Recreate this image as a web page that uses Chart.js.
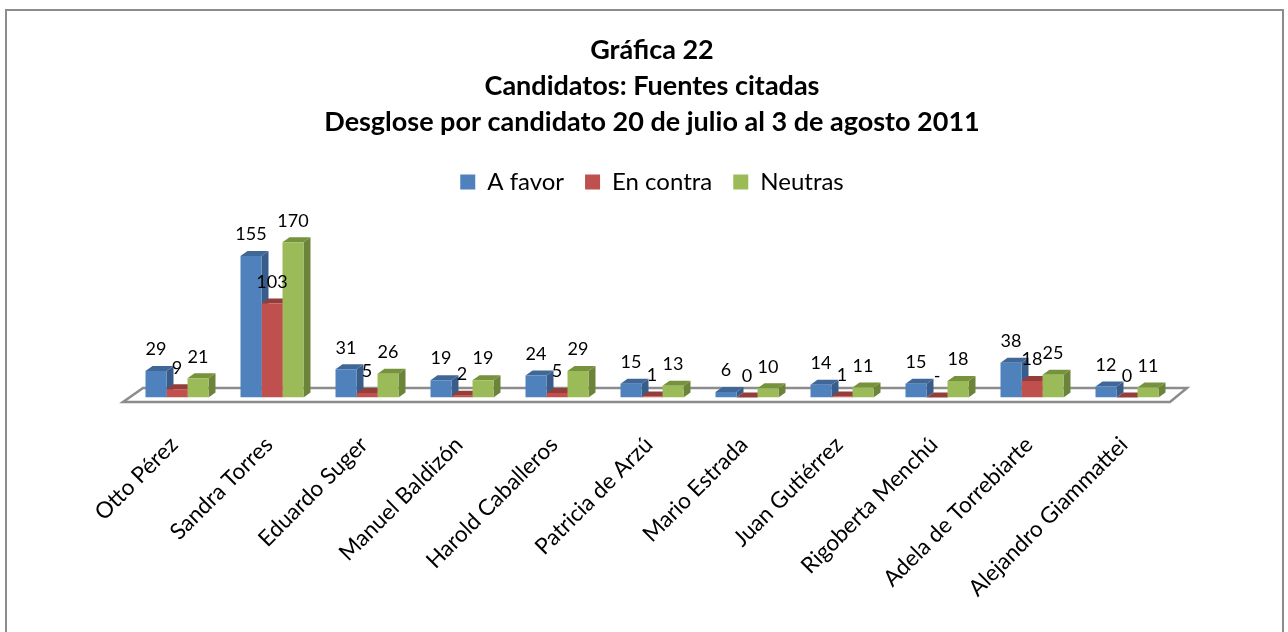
<!DOCTYPE html>
<html>
<head>
<meta charset="utf-8">
<style>
  html, body { margin: 0; padding: 0; background: #fff; }
  #marco { position: absolute; left: 0; top: 0; width: 1288px; height: 632px; }
  #marco:before { content: ''; position: absolute; left: 5px; top: 9px; width: 1275px; height: 640px; border: 2px solid #8c8c8c; }
  #marcoClip { position: absolute; left: 0; top: 0; width: 1288px; height: 632px; overflow: hidden; }
  canvas { position: absolute; left: 0; top: 0; }
</style>
<script src="https://cdn.jsdelivr.net/npm/chart.js@4"></script>
</head>
<body>
<div id="marcoClip"><div id="marco"></div><canvas id="grafica" width="1288" height="632"></canvas></div>
<script>
const candidatos = ['Otto Pérez', 'Sandra Torres', 'Eduardo Suger', 'Manuel Baldizón', 'Harold Caballeros', 'Patricia de Arzú', 'Mario Estrada', 'Juan Gutiérrez', 'Rigoberta Menchú', 'Adela de Torrebiarte', 'Alejandro Giammattei'];
const aFavor = [29, 155, 31, 19, 24, 15, 6, 14, 15, 38, 12];
const enContra = [9, 103, 5, 2, 5, 1, 0, 1, 0, 18, 0];
const neutras = [21, 170, 26, 19, 29, 13, 10, 11, 18, 25, 11];
// Rigoberta Menchú lleva un guion en lugar de 0
const enContraTexto = ['9', '103', '5', '2', '5', '1', '0', '1', '-', '18', '0'];
const titulo = ['Gráfica 22', 'Candidatos: Fuentes citadas', 'Desglose por candidato 20 de julio al 3 de agosto 2011'];

const FUENTE = 'Lato, "Open Sans", sans-serif';
const FONDO_X = 7, FONDO_Y = 5; // profundidad de las barras

const colores = [
  { frente: '#4f81bd', lado: '#385d8a', arriba: '#3f6797' },
  { frente: '#c0504d', lado: '#8c3836', arriba: '#943d3a' },
  { frente: '#9bbb59', lado: '#6c8439', arriba: '#76923c' }
];

function cara(ctx, puntos, color) {
  ctx.fillStyle = color;
  ctx.beginPath();
  puntos.forEach((p, i) => i ? ctx.lineTo(p[0], p[1]) : ctx.moveTo(p[0], p[1]));
  ctx.closePath();
  ctx.fill();
}

// Piso, caras laterales y etiquetas: la parte 3D que Chart.js no trae
const plugin3d = {
  id: 'plugin3d',
  beforeDatasetsDraw(chart) {
    const { ctx, chartArea: a } = chart;
    const base = chart.scales.y.getPixelForValue(0);
    ctx.save();
    ctx.beginPath();
    ctx.moveTo(a.left - 6.5, base + 4.5);
    ctx.lineTo(a.right - 4.5, base + 4.5);
    ctx.lineTo(a.right + 12.5, base - 9.5);
    ctx.lineTo(a.left + 13.5, base - 9.5);
    ctx.closePath();
    ctx.fillStyle = '#ffffff';
    ctx.fill();
    ctx.strokeStyle = '#8c8c8c';
    ctx.lineWidth = 2.5;
    ctx.stroke();
    // caras de atrás primero, el frente de cada barra las tapa después
    chart.data.datasets.forEach((ds, i) => {
      const c = colores[i];
      chart.getDatasetMeta(i).data.forEach(bar => {
        const w = bar.width / 2;
        const r = bar.x + w, l = bar.x - w;
        cara(ctx, [[r, bar.base], [r + FONDO_X, bar.base - FONDO_Y], [r + FONDO_X, bar.y - FONDO_Y], [r, bar.y]], c.lado);
        cara(ctx, [[l, bar.y], [l + FONDO_X, bar.y - FONDO_Y], [r + FONDO_X, bar.y - FONDO_Y], [r, bar.y]], c.arriba);
      });
    });
    ctx.restore();
  },
  afterDatasetsDraw(chart) {
    const { ctx } = chart;
    ctx.save();
    ctx.font = '18px ' + FUENTE;
    ctx.fillStyle = '#000';
    ctx.textAlign = 'center';
    ctx.textBaseline = 'middle';
    chart.data.datasets.forEach((ds, i) => {
      chart.getDatasetMeta(i).data.forEach((bar, j) => {
        ctx.fillText(ds.etiquetas[j], bar.x, bar.y - 21.5);
      });
    });
    ctx.restore();
  }
};

new Chart(document.getElementById('grafica'), {
  type: 'bar',
  plugins: [plugin3d],
  data: {
    labels: candidatos,
    datasets: [
      { label: 'A favor', data: aFavor, etiquetas: aFavor.map(String), backgroundColor: colores[0].frente },
      { label: 'En contra', data: enContra, etiquetas: enContraTexto, backgroundColor: colores[1].frente },
      { label: 'Neutras', data: neutras, etiquetas: neutras.map(String), backgroundColor: colores[2].frente }
    ]
  },
  options: {
    responsive: false,
    animation: false,
    layout: { padding: { left: 129.5, right: 113.5, top: 32, bottom: 0 } },
    datasets: { bar: { barPercentage: 1, categoryPercentage: 0.663 } },
    plugins: {
      tooltip: { enabled: false },
      title: {
        display: true,
        text: titulo,
        color: '#000',
        font: { family: FUENTE, size: 27, weight: 'bold', lineHeight: 1.333 },
        padding: { top: 0, bottom: 9 }
      },
      legend: {
        position: 'top',
        labels: { color: '#000', font: { family: FUENTE, size: 24 }, boxWidth: 15, boxHeight: 15, padding: 21 }
      }
    },
    scales: {
      x: {
        grid: { display: false },
        border: { display: false },
        afterFit(s) { s.paddingLeft = 0; s.paddingRight = 0; s.height = 234.5; },
        ticks: { color: '#000', font: { family: FUENTE, size: 22.5 }, minRotation: 45, maxRotation: 45, padding: 26, labelOffset: -3, autoSkip: false }
      },
      y: { display: false, min: 0, max: 212 }
    }
  }
});
</script>
</body>
</html>
